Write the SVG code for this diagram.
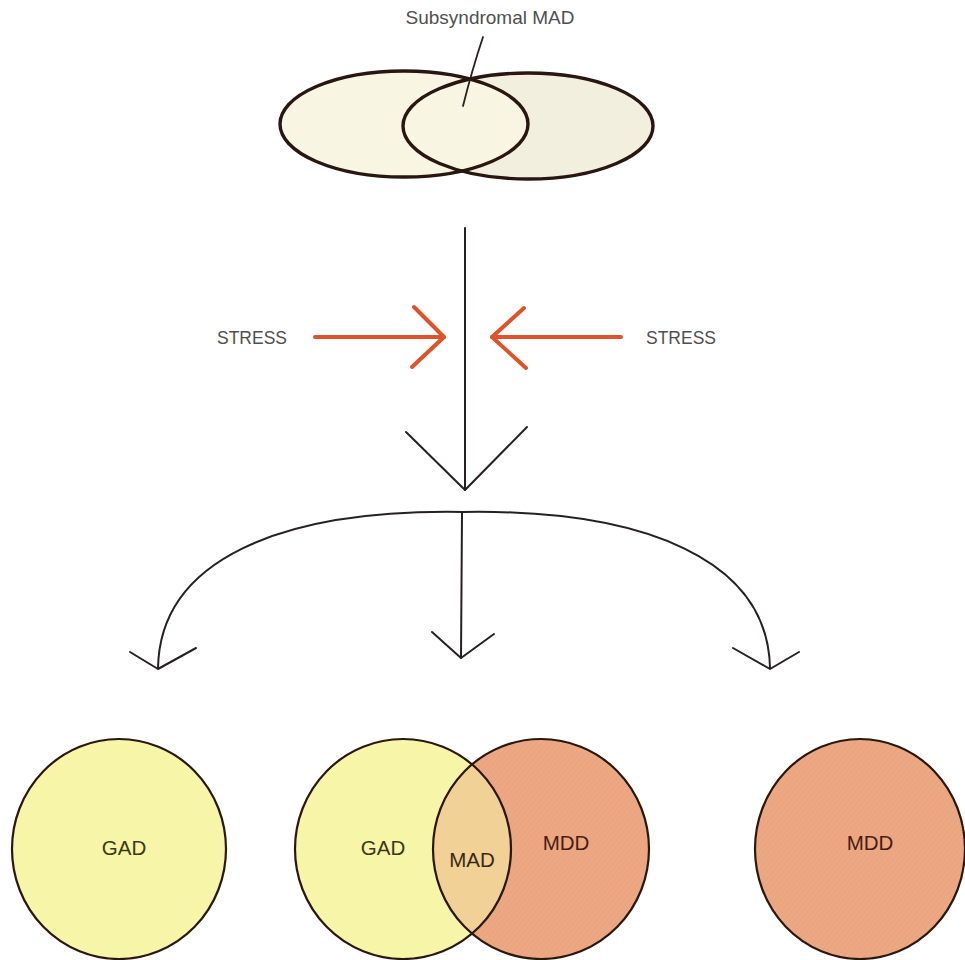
<svg xmlns="http://www.w3.org/2000/svg" width="965" height="960" viewBox="0 0 965 960">
  <style>
    .lbl { font-family: "Liberation Sans", Arial, sans-serif; text-anchor: middle; }
    .grey { fill: #4f4f4f; }
    .edge { fill: none; stroke: #262020; stroke-width: 2; stroke-linecap: round; stroke-linejoin: round; }
    .stress { fill: none; stroke: #e0532a; stroke-width: 4; stroke-linecap: round; stroke-linejoin: round; }
    .ring { fill: none; stroke: #2a1810; stroke-width: 2.2; }
    .topring { fill: none; stroke: #2a1610; stroke-width: 3.4; }
    .gad { fill: #f7f5a7; }
    .mdd { fill: #eca783; }
  </style>
  <defs>
    <pattern id="hatch" width="4" height="4" patternUnits="userSpaceOnUse" patternTransform="rotate(40)">
      <line x1="0" y1="0" x2="0" y2="4" stroke="#d98e6b" stroke-width="1" stroke-opacity="0.35"/>
    </pattern>
    <clipPath id="gadClip">
      <ellipse cx="403" cy="849" rx="108" ry="110"/>
    </clipPath>
  </defs>

  <rect width="965" height="960" fill="#ffffff"/>

  <!-- top: overlapping subsyndromal ellipses -->
  <g id="subsyndromal">
    <ellipse cx="528" cy="126" rx="125" ry="53" fill="#f3efde"/>
    <ellipse cx="404" cy="124" rx="124" ry="53" fill="#f8f6e3"/>
    <ellipse cx="528" cy="126" rx="125" ry="53" class="topring"/>
    <ellipse cx="404" cy="124" rx="124" ry="53" class="topring"/>
    <path d="M483 37 Q472 70 463 106" fill="none" stroke="#2a2020" stroke-width="1.8" stroke-linecap="round"/>
    <text class="lbl grey" x="490" y="24" font-size="19">Subsyndromal MAD</text>
  </g>

  <!-- connectors -->
  <g id="connectors">
    <!-- main trunk with open arrowhead -->
    <path class="edge" d="M465 228 L465 490"/>
    <path class="edge" d="M406 432 L465 490 L527 427"/>
    <!-- branching arc -->
    <path class="edge" d="M463 512 C280 509 160 560 158 668"/>
    <path class="edge" d="M463 512 C645 509 768 560 770 668"/>
    <path class="edge" d="M462 513 L461 658"/>
    <!-- branch arrowheads -->
    <path class="edge" d="M130 652 L158 669 L196 648"/>
    <path class="edge" d="M432 632 L461 658 L494 634"/>
    <path class="edge" d="M733 648 L770 669 L799 652"/>
  </g>

  <!-- stress arrows -->
  <g id="stress-left">
    <text class="lbl grey" x="252" y="344" font-size="17.5">STRESS</text>
    <path class="stress" d="M315 337 L444 337"/>
    <path class="stress" d="M414 307 L444 337 L412 367"/>
  </g>
  <g id="stress-right">
    <text class="lbl grey" x="681" y="344" font-size="17.5">STRESS</text>
    <path class="stress" d="M621 337 L492 337"/>
    <path class="stress" d="M524 308 L492 337 L526 368"/>
  </g>

  <!-- outcome: GAD only -->
  <g id="gad-only">
    <ellipse cx="119" cy="849" rx="107" ry="110" class="gad"/>
    <ellipse cx="119" cy="849" rx="107" ry="110" class="ring"/>
    <text class="lbl" x="124" y="855" font-size="20.5" fill="#3a3818">GAD</text>
  </g>

  <!-- outcome: comorbid GAD + MDD overlapping in MAD -->
  <g id="comorbid">
    <ellipse cx="403" cy="849" rx="108" ry="110" class="gad"/>
    <ellipse cx="541" cy="849" rx="108" ry="110" class="mdd"/>
    <ellipse cx="541" cy="849" rx="108" ry="110" fill="url(#hatch)"/>
    <ellipse cx="541" cy="849" rx="108" ry="110" fill="#f1d196" clip-path="url(#gadClip)"/>
    <ellipse cx="403" cy="849" rx="108" ry="110" class="ring"/>
    <ellipse cx="541" cy="849" rx="108" ry="110" class="ring"/>
    <text class="lbl" x="383" y="855" font-size="20.5" fill="#3a3818">GAD</text>
    <text class="lbl" x="472" y="867" font-size="20.5" fill="#3a2a12">MAD</text>
    <text class="lbl" x="566" y="850" font-size="20.5" fill="#4a1c10">MDD</text>
  </g>

  <!-- outcome: MDD only -->
  <g id="mdd-only">
    <ellipse cx="860" cy="849" rx="105" ry="110" class="mdd"/>
    <ellipse cx="860" cy="849" rx="105" ry="110" fill="url(#hatch)"/>
    <ellipse cx="860" cy="849" rx="105" ry="110" class="ring"/>
    <text class="lbl" x="870" y="850" font-size="20.5" fill="#4a1c10">MDD</text>
  </g>
</svg>
